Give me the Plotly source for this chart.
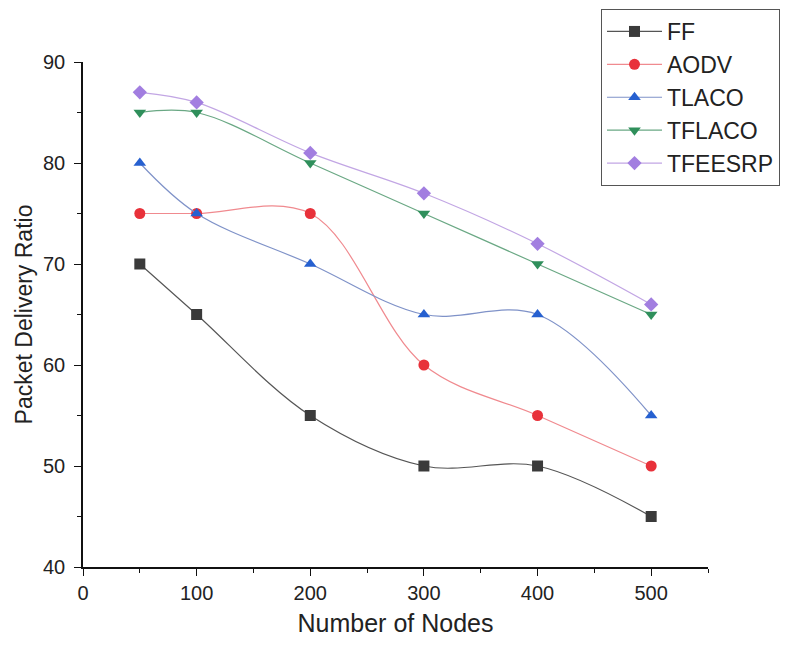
import plotly.graph_objects as go

nodes = [50, 100, 200, 300, 400, 500]
ff = [70, 65, 55, 50, 50, 45]
aodv = [75, 75, 75, 60, 55, 50]
tlaco = [80, 75, 70, 65, 65, 55]
tflaco = [85, 85, 80, 75, 70, 65]
tfeesrp = [87, 86, 81, 77, 72, 66]

series = [
    ("FF", ff, "#3a3a3a", "#555555", "square"),
    ("AODV", aodv, "#e8313a", "#f08a8f", "circle"),
    ("TLACO", tlaco, "#2660d0", "#7f92c8", "triangle-up"),
    ("TFLACO", tflaco, "#2f8f5b", "#6aa884", "triangle-down"),
    ("TFEESRP", tfeesrp, "#a27ee0", "#c2a6e4", "diamond"),
]

fig = go.Figure()
for name, vals, mc, lc, sym in series:
    fig.add_trace(go.Scatter(
        x=nodes, y=vals, name=name, mode="lines+markers",
        line=dict(color=lc, width=1.2, shape="spline", smoothing=1.0),
        marker=dict(color=mc, symbol=sym, size=11, line=dict(width=0)),
    ))

font = "Liberation Sans, Arial, sans-serif"
# page body has an 8px margin: figure origin sits at (8, 8) of the window
W, H = 772, 629
L, R, T, B = 75, 72, 54, 70
pw, ph = W - L - R, H - T - B
fig.update_layout(
    width=W, height=H,
    paper_bgcolor="white", plot_bgcolor="white",
    margin=dict(l=L, r=R, t=T, b=B, autoexpand=False),
    font=dict(family=font, color="#222222"),
    showlegend=True,
    legend=dict(
        x=(593 - L) / pw, y=(H - B - 1) / ph, xanchor="left", yanchor="top",
        bordercolor="#555555", borderwidth=1, bgcolor="white",
        font=dict(size=23, family=font, color="#222222"),
        tracegroupgap=0, itemwidth=55,
    ),
    xaxis=dict(
        range=[0, 550], tickvals=[0, 100, 200, 300, 400, 500], automargin=False,
        showgrid=False, zeroline=False, showline=True, linecolor="#111111", linewidth=1.5,
        ticks="outside", ticklen=7, tickwidth=1.2, tickcolor="#111111",
        minor=dict(tickvals=[50, 150, 250, 350, 450, 550], ticks="outside", ticklen=4, tickcolor="#111111"),
        tickfont=dict(size=20, family=font, color="#222222"),
        title=dict(text="Number of Nodes", font=dict(size=25, family=font, color="#222222"), standoff=12),
    ),
    yaxis=dict(
        range=[40, 90], tickvals=[40, 50, 60, 70, 80, 90], automargin=False,
        showgrid=False, zeroline=False, showline=True, linecolor="#111111", linewidth=1.5,
        ticks="outside", ticklen=7, tickwidth=1.2, tickcolor="#111111", ticklabelstandoff=5,
        minor=dict(tickvals=[45, 55, 65, 75, 85], ticks="outside", ticklen=4, tickcolor="#111111"),
        tickfont=dict(size=20, family=font, color="#222222"),
        title=dict(text="Packet Delivery Ratio", font=dict(size=23, family=font, color="#222222"), standoff=4),
    ),
)

fig.write_html("out.html")
